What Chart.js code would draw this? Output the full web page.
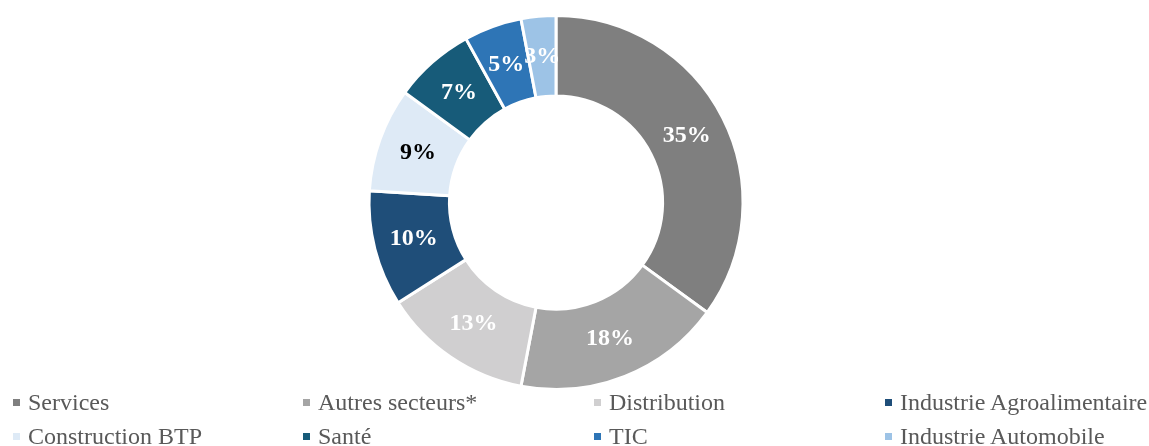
<!DOCTYPE html>
<html>
<head>
<meta charset="utf-8">
<script src="https://cdn.jsdelivr.net/npm/chart.js@4"></script>
<style>
  html, body { margin: 0; padding: 0; background: #fff; }
  #wrap { position: relative; width: 1149px; height: 446px; overflow: hidden; }
  #chart { position: absolute; left: 0; top: 0; }
  .legend { position: absolute; left: 0; top: 0; width: 1149px; height: 446px; pointer-events: none;
            font-family: "Liberation Serif", "Times New Roman", serif; font-size: 24px; color: #595959; }
  .item { position: absolute; white-space: nowrap; line-height: 26px; }
  .item .sw { display: inline-block; width: 7px; height: 7px; margin-right: 8px; vertical-align: 4px; }
</style>
</head>
<body>
<div id="wrap">
  <canvas id="chart" width="1149" height="446"></canvas>
  <div class="legend" id="legend"></div>
</div>
<script>
// Sector breakdown (share in %)
const categories = ["Services", "Autres secteurs*", "Distribution", "Industrie Agroalimentaire",
                    "Construction BTP", "Santé", "TIC", "Industrie Automobile"];
const shares = [35, 18, 13, 10, 9, 7, 5, 3];
const sliceColors = ["#7f7f7f", "#a5a5a5", "#d0cfd0", "#1f4e79",
                     "#deeaf6", "#175b79", "#2e75b6", "#9dc3e6"];
const labelColors = ["#ffffff", "#ffffff", "#ffffff", "#ffffff",
                     "#000000", "#ffffff", "#ffffff", "#ffffff"];

// Percentage labels drawn at the middle of each ring segment
const sliceLabels = {
  id: "sliceLabels",
  afterDatasetsDraw(chart) {
    const ctx = chart.ctx;
    const meta = chart.getDatasetMeta(0);
    ctx.save();
    ctx.font = "bold 24px 'Liberation Serif', 'Times New Roman', serif";
    ctx.textAlign = "center";
    ctx.textBaseline = "middle";
    meta.data.forEach((arc, i) => {
      const p = arc.tooltipPosition();
      ctx.fillStyle = labelColors[i];
      ctx.fillText(shares[i] + "%", p.x, p.y);
    });
    ctx.restore();
  }
};

new Chart(document.getElementById("chart"), {
  type: "doughnut",
  data: {
    labels: categories,
    datasets: [{
      data: shares,
      backgroundColor: sliceColors,
      borderColor: "#ffffff",
      borderWidth: 3
    }]
  },
  options: {
    responsive: false,
    animation: false,
    cutout: "57%",
    layout: { padding: { left: 0, right: 37, top: 14, bottom: 55 } },
    plugins: {
      legend: { display: false },
      tooltip: { enabled: false }
    }
  },
  plugins: [sliceLabels]
});

// Legend: 4 columns x 2 rows
const legendEl = document.getElementById("legend");
const colX = [13, 303, 594, 885];
const rowY = [389, 423];
categories.forEach((name, i) => {
  const div = document.createElement("div");
  div.className = "item";
  div.style.left = colX[i % 4] + "px";
  div.style.top = rowY[Math.floor(i / 4)] + "px";
  const sw = document.createElement("span");
  sw.className = "sw";
  sw.style.background = sliceColors[i];
  div.appendChild(sw);
  div.appendChild(document.createTextNode(name));
  legendEl.appendChild(div);
});
</script>
</body>
</html>
